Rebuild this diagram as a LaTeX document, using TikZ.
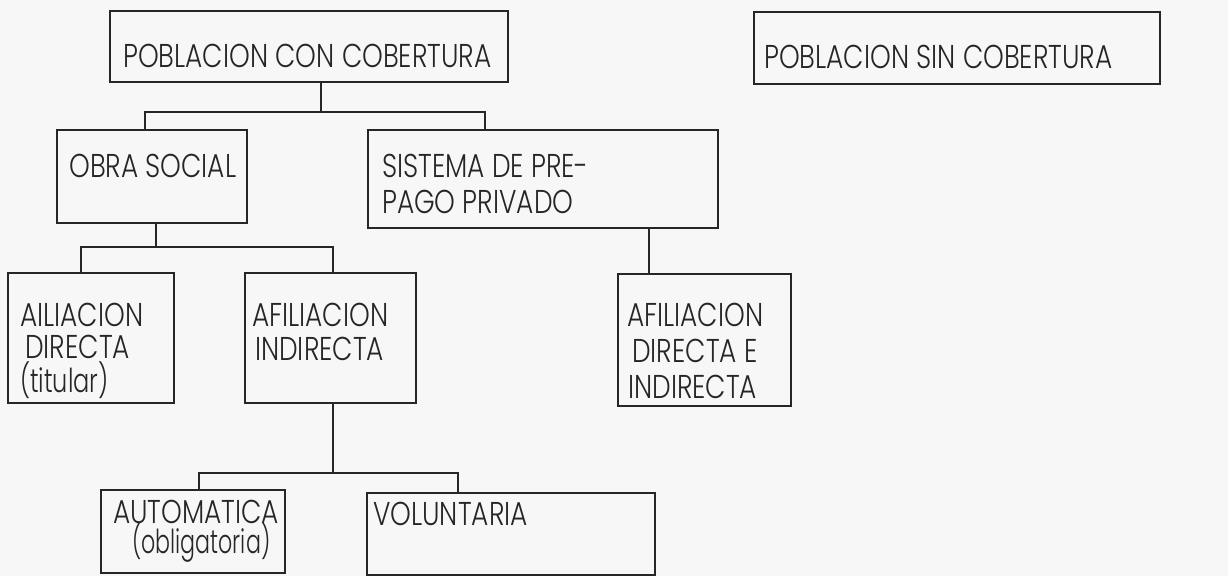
\documentclass[tikz,border=0pt]{standalone}
\usepackage{fontspec}
\setmainfont{Poppins}[FakeStretch=0.80,UprightFont=*-Light]
\begin{document}
\begin{tikzpicture}[x=1pt,y=-1pt,
  box/.style={draw=black!85,line width=1.3pt,minimum width=#1,inner sep=0pt},
  txt/.style={anchor=base west,inner sep=0pt,text=black!85,font=\fontsize{33}{39}\selectfont},
  con/.style={draw=black!85,line width=1.3pt}]
\fill[black!3] (0,0) rectangle (1228,576);
\useasboundingbox (0,0) rectangle (1228,576);
% boxes
\node[box=398pt,minimum height=71pt] (top) at (309,46.5) {};
\node[box=406pt,minimum height=72pt] (sin) at (957,48) {};
\node[box=190pt,minimum height=93pt] (obra) at (152,176.5) {};
\node[box=350pt,minimum height=98pt] (sist) at (543,179) {};
\node[box=166pt,minimum height=130pt] (dir) at (91,338) {};
\node[box=171pt,minimum height=130pt] (ind) at (330.5,338) {};
\node[box=173pt,minimum height=132pt] (dei) at (704.5,340) {};
\node[box=184pt,minimum height=83pt] (auto) at (193,531.5) {};
\node[box=288pt,minimum height=82pt] (vol) at (511,534) {};
% texts
\node[txt] (t1) at (123,67) {POBLACION CON COBERTURA};
\node[txt] (t2) at (764,68) {POBLACION SIN COBERTURA};
\node[txt] (t3) at (69,177) {OBRA SOCIAL};
\node[txt] (t4a) at (382,177) {SISTEMA DE PRE-};
\node[txt] (t4b) at (382,213) {PAGO PRIVADO};
\node[txt] (t5a) at (20,326) {AILIACION};
\node[txt] (t5b) at (25,358) {DIRECTA};
\node[txt] (t5c) at (20,392) {\scalebox{0.91}[1]{(titular)}};
\node[txt] (t6a) at (252,326) {AFILIACION};
\node[txt] (t6b) at (255,360) {INDIRECTA};
\node[txt] (t7a) at (627,326) {AFILIACION};
\node[txt] (t7b) at (632,362) {DIRECTA E};
\node[txt] (t7c) at (628,398) {INDIRECTA};
\node[txt] (t8a) at (113,523) {AUTOMATICA};
\node[txt] (t8b) at (132,553) {\scalebox{0.84}[1]{(obligatoria)}};
\node[txt] (t9) at (373,525) {VOLUNTARIA};
% connectors
\coordinate (j1) at (321,112);
\coordinate (a1) at (145,112);
\coordinate (a2) at (485,112);
\draw[con] (top.south -| j1) -- (j1);
\draw[con] (obra.north -| a1) -- (a1) -- (a2) -- (sist.north -| a2);
\coordinate (j2) at (156,247);
\coordinate (b1) at (81,247);
\coordinate (b2) at (333,247);
\draw[con] (obra.south -| j2) -- (j2);
\draw[con] (dir.north -| b1) -- (b1) -- (b2) -- (ind.north -| b2);
\coordinate (c1) at (649,250);
\draw[con] (sist.south -| c1) -- (dei.north -| c1);
\coordinate (j3) at (333,473);
\coordinate (d1) at (199,473);
\coordinate (d2) at (458,473);
\draw[con] (ind.south -| j3) -- (j3);
\draw[con] (auto.north -| d1) -- (d1) -- (d2) -- (vol.north -| d2);
\end{tikzpicture}
\end{document}
